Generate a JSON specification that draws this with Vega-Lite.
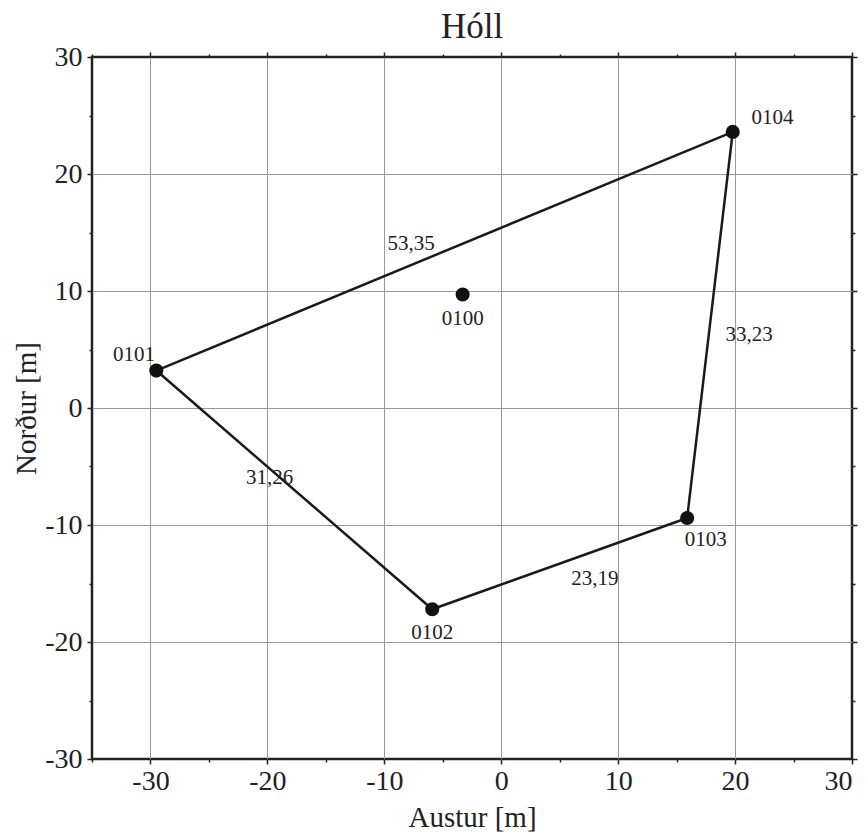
{
  "$schema": "https://vega.github.io/schema/vega-lite/v6.json",
  "width": 760,
  "height": 702,
  "autosize": {"type": "none"},
  "padding": {"left": 92, "top": 57, "right": 16, "bottom": 81},
  "background": "white",
  "title": {"text": "Hóll", "font": "Liberation Serif", "fontSize": 35, "fontWeight": "normal", "color": "#222", "offset": -2},
  "config": {
    "view": {"stroke": "#222", "strokeWidth": 2.5},
    "font": "Liberation Serif"
  },
  "datasets": {
    "pts": [
      {"id": "0100", "x": -3.3, "y": 9.7, "lx": -3.3, "ly": 7.6},
      {"id": "0101", "x": -29.5, "y": 3.2, "lx": -31.4, "ly": 4.5},
      {"id": "0102", "x": -5.9, "y": -17.2, "lx": -5.9, "ly": -19.2},
      {"id": "0103", "x": 15.9, "y": -9.4, "lx": 17.5, "ly": -11.3},
      {"id": "0104", "x": 19.8, "y": 23.6, "lx": 23.2, "ly": 24.8}
    ],
    "poly": [
      {"x": -29.5, "y": 3.2, "o": 1},
      {"x": 19.8, "y": 23.6, "o": 2},
      {"x": 15.9, "y": -9.4, "o": 3},
      {"x": -5.9, "y": -17.2, "o": 4},
      {"x": -29.5, "y": 3.2, "o": 5}
    ],
    "dist": [
      {"t": "53,35", "x": -7.7, "y": 14.0},
      {"t": "33,23", "x": 21.2, "y": 6.2},
      {"t": "31,26", "x": -19.8, "y": -6.0},
      {"t": "23,19", "x": 8.0, "y": -14.6}
    ]
  },
  "layer": [
    {
      "data": {"name": "poly"},
      "mark": {"type": "line", "color": "#1a1a1a", "strokeWidth": 2.5},
      "encoding": {
        "x": {"field": "x", "type": "quantitative", "scale": {"domain": [-35, 30], "nice": false, "zero": false},
          "axis": {"orient": "bottom", "title": "Austur [m]", "values": [-35,-30,-25,-20,-15,-10,-5,0,5,10,15,20,25,30],
            "labelExpr": "datum.value % 10 === 0 ? '' + datum.value : ''",
            "labelFont": "Liberation Serif", "titleFont": "Liberation Serif", "labelFontSize": 28, "titleFontSize": 29, "titleFontWeight": "normal",
            "labelColor": "#222", "titleColor": "#222", "domain": false, "tickColor": "#222", "tickWidth": 1.5,
            "gridColor": "#999", "gridWidth": 1,
            "grid": true, "gridOpacity": {"condition": {"test": "datum.value % 10 === 0 && datum.value > -35 && datum.value < 30", "value": 1}, "value": 0},
            "tickSize": {"condition": {"test": "datum.value % 10 === 0", "value": 5}, "value": 3},
            "labelPadding": 3, "titlePadding": 8}},
        "y": {"field": "y", "type": "quantitative", "scale": {"domain": [-30, 30], "nice": false, "zero": false},
          "axis": {"orient": "left", "title": "Norður [m]", "values": [-30,-25,-20,-15,-10,-5,0,5,10,15,20,25,30],
            "labelExpr": "datum.value % 10 === 0 ? '' + datum.value : ''",
            "labelFont": "Liberation Serif", "titleFont": "Liberation Serif", "labelFontSize": 28, "titleFontSize": 29, "titleFontWeight": "normal",
            "labelColor": "#222", "titleColor": "#222", "domain": false, "tickColor": "#222", "tickWidth": 1.5,
            "gridColor": "#999", "gridWidth": 1,
            "grid": true, "gridOpacity": {"condition": {"test": "datum.value % 10 === 0 && datum.value > -30 && datum.value < 30", "value": 1}, "value": 0},
            "tickSize": {"condition": {"test": "datum.value % 10 === 0", "value": 5}, "value": 3},
            "labelPadding": 5, "titlePadding": 3}},
        "order": {"field": "o", "type": "quantitative"}
      }
    },
    {
      "data": {"name": "pts"},
      "mark": {"type": "circle", "color": "#111", "opacity": 1, "size": 200},
      "encoding": {
        "x": {"field": "x", "type": "quantitative",
          "axis": {"orient": "top", "title": null, "labels": false, "grid": false, "domain": false, "tickColor": "#222", "tickWidth": 1.5,
            "values": [-35,-30,-25,-20,-15,-10,-5,0,5,10,15,20,25,30],
            "tickSize": {"condition": {"test": "datum.value % 10 === 0", "value": 5}, "value": 3}}},
        "y": {"field": "y", "type": "quantitative",
          "axis": {"orient": "right", "title": null, "labels": false, "grid": false, "domain": false, "tickColor": "#222", "tickWidth": 1.5,
            "values": [-30,-25,-20,-15,-10,-5,0,5,10,15,20,25,30],
            "tickSize": {"condition": {"test": "datum.value % 10 === 0", "value": 5}, "value": 3}}}
      }
    },
    {
      "data": {"name": "pts"},
      "mark": {"type": "text", "fontSize": 21, "color": "#222", "font": "Liberation Serif"},
      "encoding": {
        "x": {"field": "lx", "type": "quantitative", "axis": null},
        "y": {"field": "ly", "type": "quantitative", "axis": null},
        "text": {"field": "id"}
      }
    },
    {
      "data": {"name": "dist"},
      "mark": {"type": "text", "fontSize": 21, "color": "#222", "font": "Liberation Serif"},
      "encoding": {
        "x": {"field": "x", "type": "quantitative", "axis": null},
        "y": {"field": "y", "type": "quantitative", "axis": null},
        "text": {"field": "t"}
      }
    }
  ],
  "resolve": {"axis": {"x": "independent", "y": "independent"}}
}
